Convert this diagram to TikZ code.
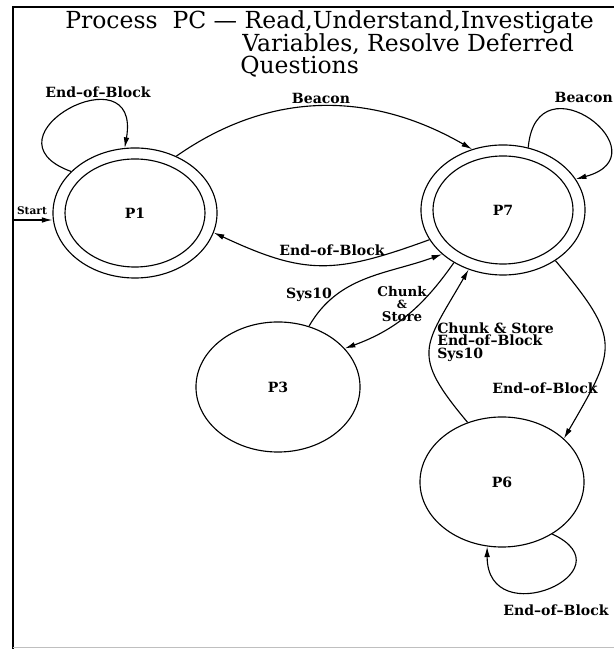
\documentclass[tikz,border=0pt]{standalone}
\usepackage{fontspec}
\setmainfont{DejaVu Serif}
\usetikzlibrary{shapes.geometric, arrows.meta}

\tikzset{
	proc/.style = {draw, ellipse, line width=0.8pt, inner sep=0pt, minimum width=4.1cm, minimum height=3.25cm, font=\fontsize{10}{12}\selectfont\bfseries},
	innerring/.style = {draw, ellipse, line width=0.8pt, inner sep=0pt, minimum width=3.5cm, minimum height=2.7cm},
	trans/.style = {line width=0.8pt, -{Latex[length=7.5pt, width=4pt]}},
	lbl/.style = {font=\fontsize{10}{12}\selectfont\bfseries, inner sep=0pt},
	ttl/.style = {anchor=west, inner sep=0pt, font=\fontsize{16.7}{20}\selectfont},
}

\begin{document}
\begin{tikzpicture}[x=0.025cm, y=0.025cm]
	\useasboundingbox (0,0) rectangle (614,649);
	\draw [line width=1.2pt] (13,0) -- (13,642) -- (614,642);
	\draw [black!25] (13,2) -- (614,2);

	\node [ttl] (title1) at (65,627) {Process\ \ PC --- Read,Understand,Investigate};
	\node [ttl] (title2) at (242,605) {Variables, Resolve Deferred};
	\node [ttl] (title3) at (240,582) {Questions};

	\node [proc] (P1) at (135,436) {P1};
	\node [innerring] (P1i) at (P1) {};
	\node [proc] (P7) at (503,439) {P7};
	\node [innerring] (P7i) at (P7) {};
	\node [proc] (P3) at (278,262) {P3};
	\node [proc] (P6) at (502,167) {P6};

	\coordinate (start) at (13,429);

	\begin{scope}[trans]
		\draw (start) -- (start -| P1.west);
		\draw (P1.147) to [out=160, in=80, looseness=4.4] (P1.99);
		\draw (P1.54) to [out=35, in=150] (P7.117);
		\draw (P7.202) to [out=200, in=-25, looseness=1.2] (P1.346);
		\draw (P3.63) to [out=60, in=200] (P7.216);
		\draw (P7.227) to [out=235, in=20] (P3.30);
		\draw (P6.120) to [out=130, in=240, looseness=1.5] (P7.240);
		\draw (P7.316) to [out=-50, in=60, looseness=1.5] (P6.35);
		\draw (P6.314) to [out=-25, in=-90, looseness=3.4] (P6.257);
		\draw (P7.68) to [out=85, in=15, looseness=4.2] (P7.23);
	\end{scope}

	\node [lbl, font=\fontsize{7.5}{9}\selectfont\bfseries] (startlbl) at (32,438) {Start};
	\node [lbl] (eobP1) at (98,557) {End--of--Block};
	\node [lbl] (beaconP1) at (321,551) {Beacon};
	\node [lbl, anchor=east] (beaconP7) at (613,552) {Beacon};
	\node [lbl] (eobP7) at (332,399) {End--of--Block};
	\node [lbl] (sysP3) at (309,354) {Sys10};
	\node [lbl, align=center, font=\fontsize{9.5}{8.6}\selectfont\bfseries] (chunkP7) at (402,345) {Chunk\\{\fontsize{8}{8}\selectfont\&}\\Store};
	\node [lbl, align=left, anchor=west, font=\fontsize{10}{9}\selectfont\bfseries] (multiP6) at (437,307) {Chunk \& Store\\End--of--Block\\Sys10};
	\node [lbl] (eobP7P6) at (545,261) {End--of--Block};
	\node [lbl] (eobP6) at (556,39) {End--of--Block};
\end{tikzpicture}
\end{document}
